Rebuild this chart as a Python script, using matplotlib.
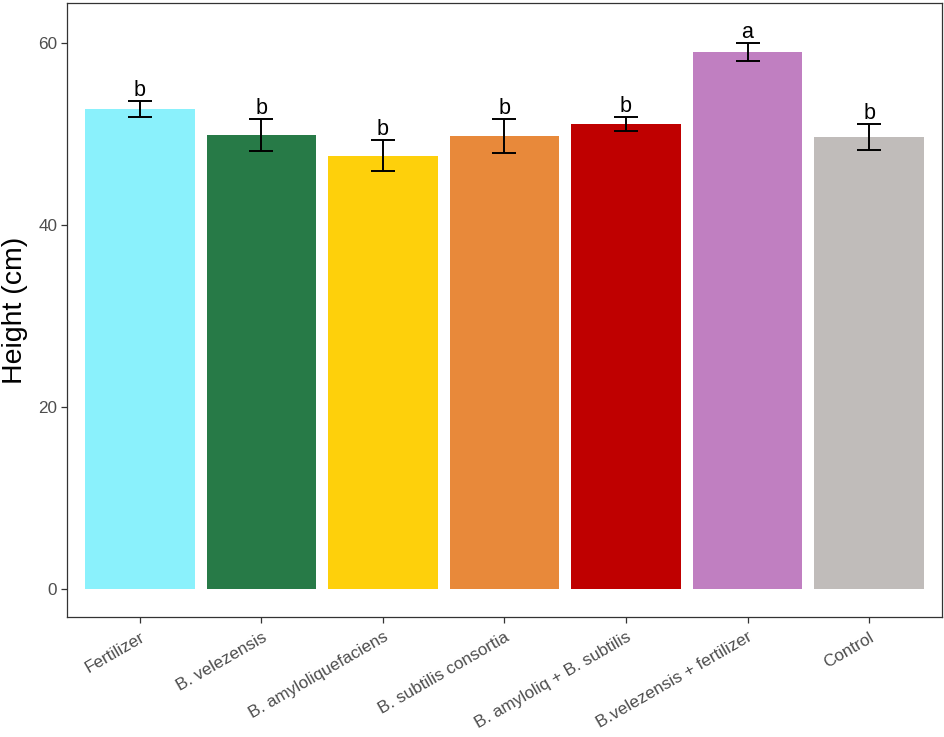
import matplotlib
matplotlib.use("Agg")
import matplotlib.pyplot as plt
import numpy as np

categories = ["Fertilizer", "B. velezensis", "B. amyloliquefaciens", "B. subtilis consortia",
              "B. amyloliq + B. subtilis", "B.velezensis + fertilizer", "Control"]
heights = [52.75, 49.9, 47.6, 49.75, 51.1, 59.0, 49.7]
errors = [0.85, 1.75, 1.7, 1.85, 0.75, 1.0, 1.4]
letters = ["b", "b", "b", "b", "b", "a", "b"]
colors = ["#8AF1FC", "#277A47", "#FED00B", "#E8893A", "#BF0000", "#C07FC1", "#C0BCBA"]
yticks = [0, 20, 40, 60]

plt.rcParams['font.family'] = ['Liberation Sans', 'DejaVu Sans']

fig = plt.figure(figsize=(9.45, 7.37), dpi=100)
ax = fig.add_axes([67/945, 1 - 617/737, (942 - 67)/945, (617 - 3)/737])

x = np.arange(1, len(categories) + 1)
ax.bar(x, heights, width=0.9, color=colors, zorder=2)
ax.errorbar(x, heights, yerr=errors, fmt='none', ecolor='black', elinewidth=1.4,
            capsize=8.6, capthick=1.4, zorder=3)
for xi, h, e, l in zip(x, heights, errors, letters):
    ax.text(xi, h + e + 0.6, l, ha='center', va='baseline', fontsize=15.5, color='black')

ax.set_xlim(0.4, 7.6)
ax.set_ylim(-3.07, 64.4)
ax.set_yticks(yticks)
ax.set_yticklabels([str(v) for v in yticks])
ax.set_xticks(x)
ax.set_xticklabels(categories, rotation=30, ha='right', rotation_mode='anchor')
ax.set_ylabel("Height (cm)", fontsize=20.5, color='black')
ax.yaxis.label.set_va('center')
ax.yaxis.set_label_coords(-(67 - 15) / 875, 0.5)

for sp in ax.spines.values():
    sp.set_color('#333333')
    sp.set_linewidth(0.9)
ax.tick_params(axis='both', colors='#333333', length=4, width=0.9, labelsize=12.3,
               labelcolor='#4D4D4D')
ax.tick_params(axis='x', pad=5)
ax.tick_params(axis='y', pad=3)

fig.savefig("out.png", dpi=100)
